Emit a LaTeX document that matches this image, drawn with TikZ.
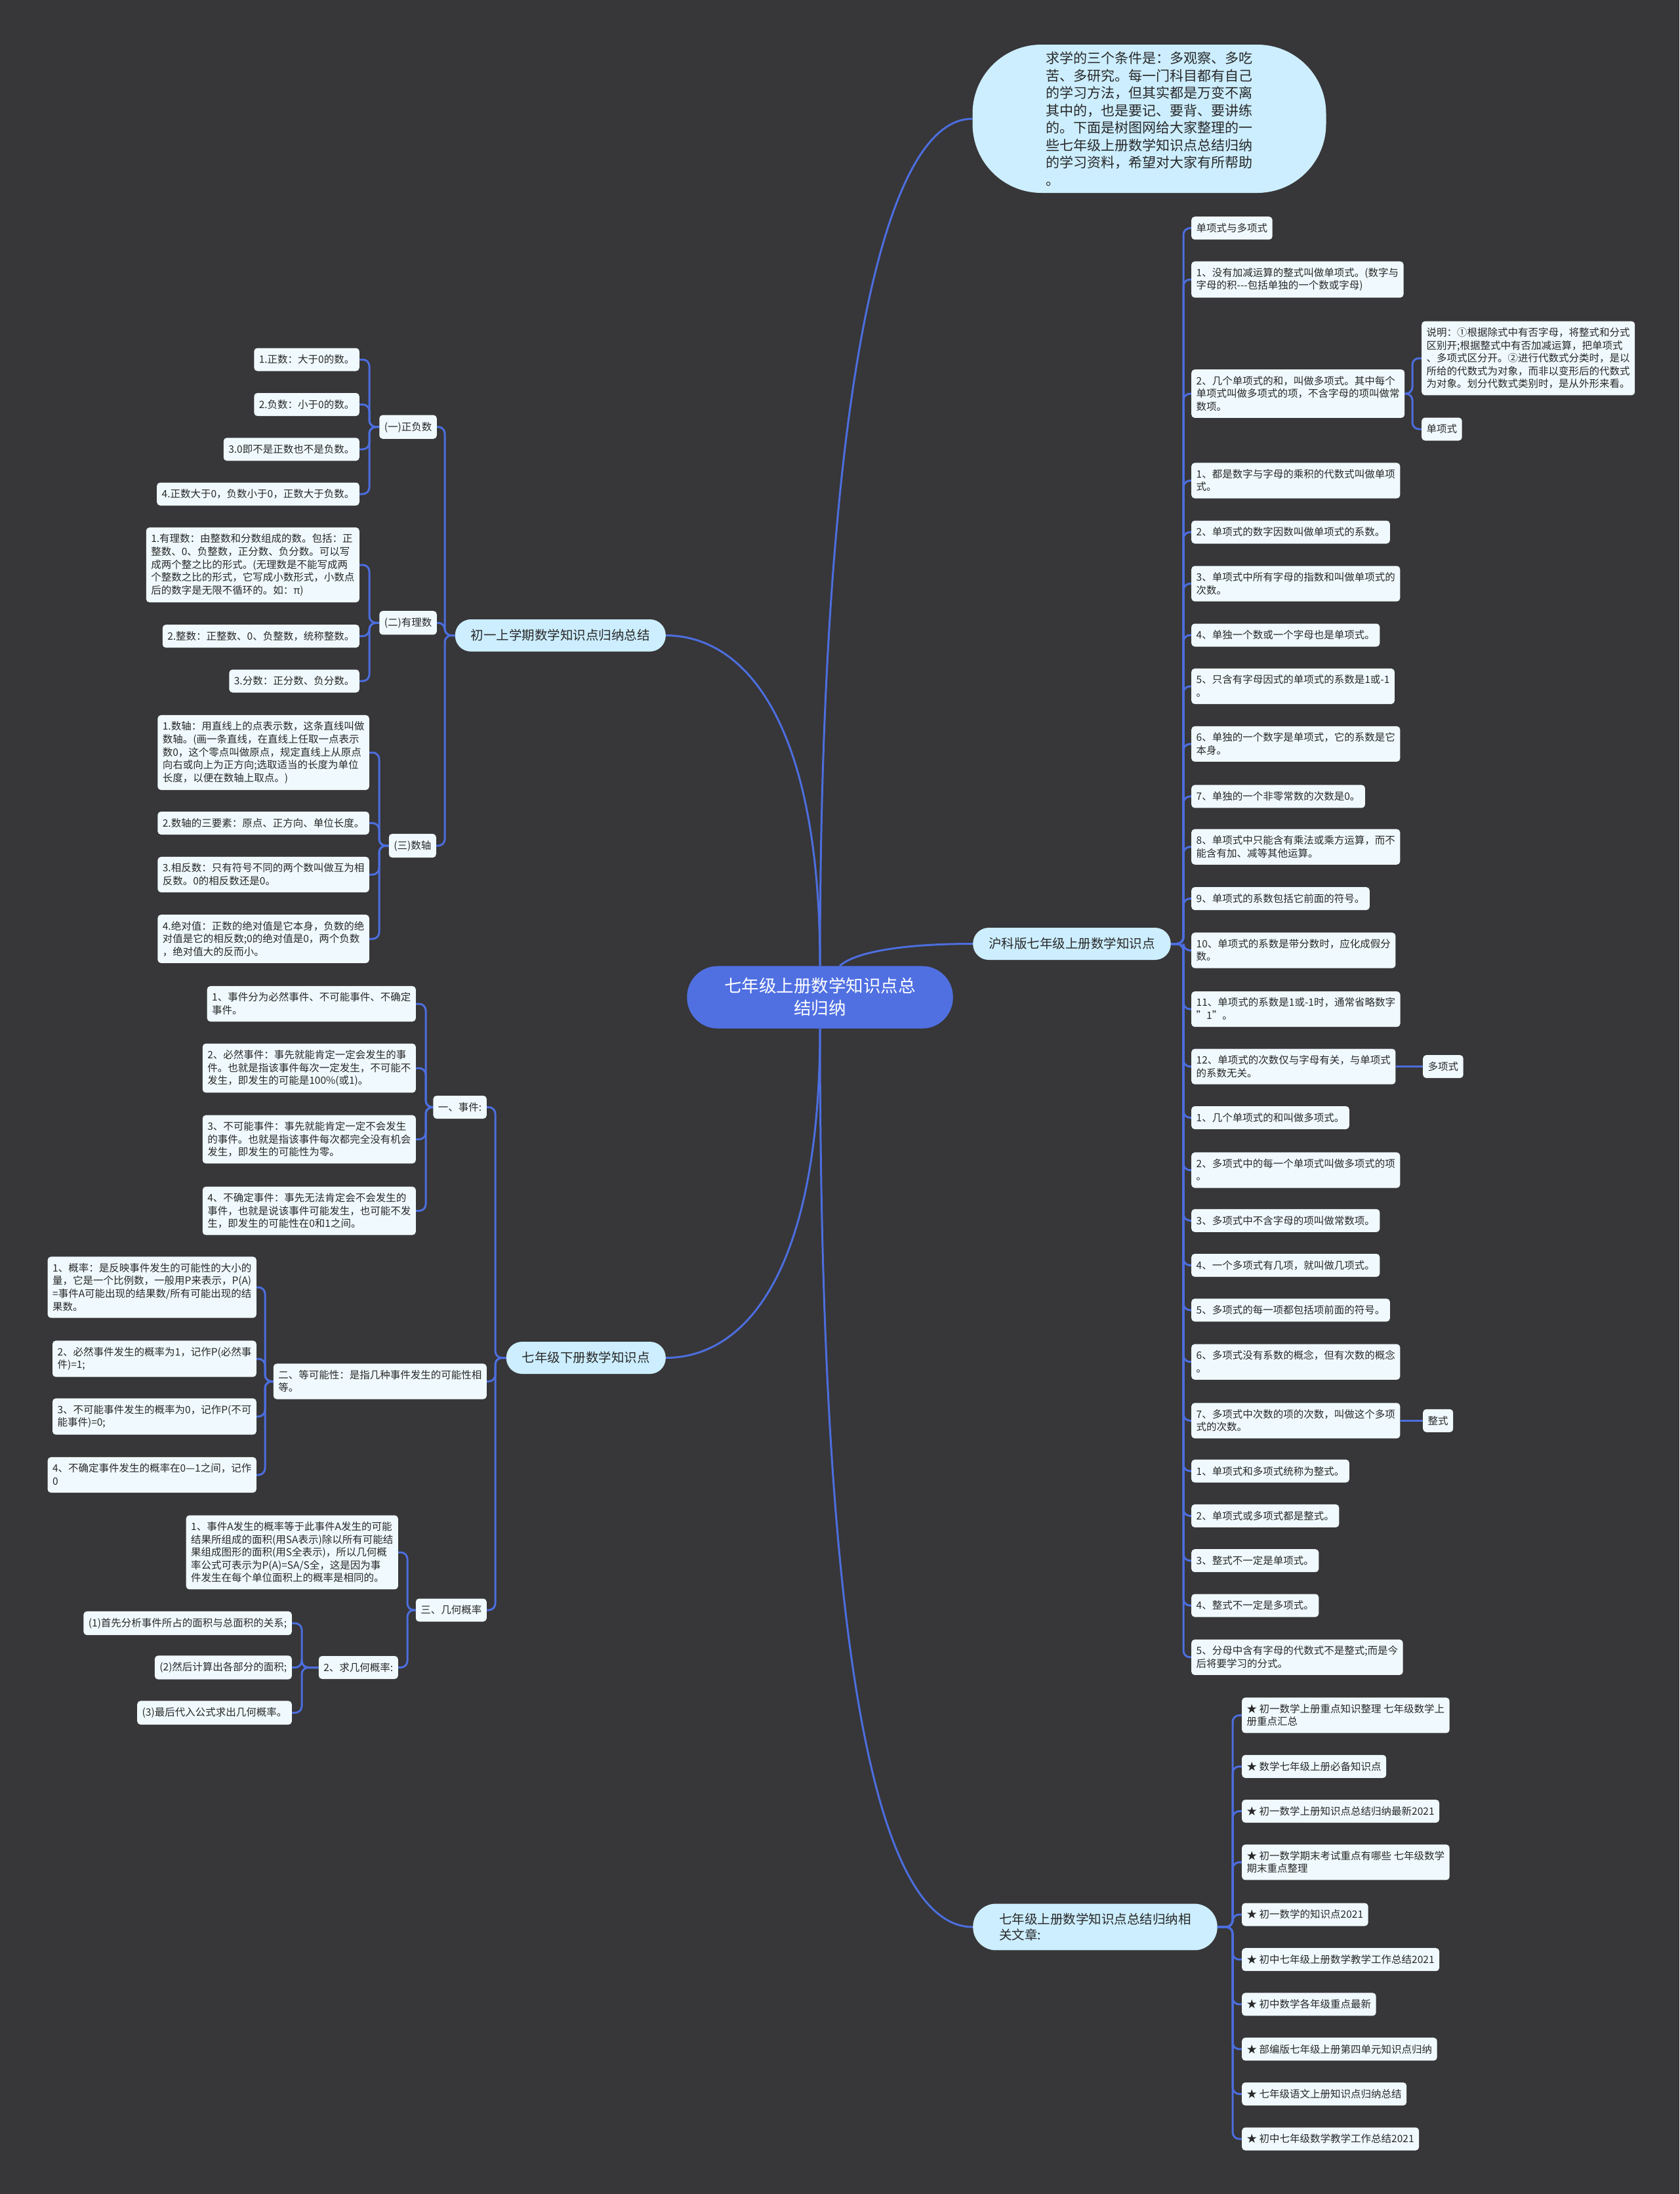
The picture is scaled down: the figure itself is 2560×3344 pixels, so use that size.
\documentclass[tikz,border=0pt]{standalone}
\usepackage{fontspec}
\setmainfont{Noto Sans CJK SC}
\usetikzlibrary{calc}
\definecolor{bgc}{RGB}{55,54,56}
\definecolor{linec}{RGB}{76,110,222}
\definecolor{rootc}{RGB}{80,112,226}
\definecolor{brc}{RGB}{204,238,255}
\definecolor{leafc}{RGB}{240,250,254}
\definecolor{txtc}{RGB}{40,40,40}
\newcommand{\lfstrut}{\rule[-0.12em]{0pt}{1em}}
\pgfdeclarelayer{bgl}
\pgfdeclarelayer{edges}
\pgfsetlayers{bgl,edges,main}
\tikzset{
  leaf/.style={fill=leafc, text=txtc, rounded corners=5pt, inner xsep=7.5pt, inner ysep=9.75pt, align=left,
    font=\fontsize{15.5}{19.6}\selectfont, execute at begin node=\lfstrut, execute at end node=\lfstrut},
  lr/.style={leaf, anchor=west},
  ll/.style={leaf, anchor=east},
  branch/.style={fill=brc, text=txtc, rounded corners=24pt, inner xsep=24pt, inner ysep=14.75pt, align=left,
    font=\fontsize{19.5}{24}\selectfont, execute at begin node=\lfstrut, execute at end node=\lfstrut},
  rootnode/.style={fill=rootc, text=white, rounded corners=47pt, inner xsep=57pt, inner ysep=17.75pt, align=center,
    font=\fontsize{26.5}{34}\selectfont, execute at begin node=\lfstrut, execute at end node=\lfstrut},
  intronode/.style={fill=brc, text=txtc, rounded corners=105pt, minimum width=539pt, minimum height=226pt,
    inner sep=0pt, align=left, font=\fontsize{21}{26.5}\selectfont},
  conn/.style={draw=linec, line width=3pt, rounded corners=10pt},
  mainconn/.style={draw=linec, line width=3pt},
}
\begin{document}
\begin{tikzpicture}[x=1pt,y=-1pt]
\begin{pgfonlayer}{bgl}
\fill[bgc] (0,0) rectangle (2560,3344);
\end{pgfonlayer}
\useasboundingbox (0,0) rectangle (2560,3344);

% root and main branches
\node[rootnode] (root) at (1250,1520) {七年级上册数学知识点总\\结归纳};
\node[intronode] (intro) at (1752,181) {求学的三个条件是：多观察、多吃\\苦、多研究。每一门科目都有自己\\的学习方法，但其实都是万变不离\\其中的，也是要记、要背、要讲练\\的。下面是树图网给大家整理的一\\些七年级上册数学知识点总结归纳\\的学习资料，希望对大家有所帮助\\。};
\node[branch, anchor=west] (hk) at (1483,1438.5) {沪科版七年级上册数学知识点};
\node[branch, anchor=west, rounded corners=35pt, inner xsep=40pt, inner ysep=14pt] (rel) at (1483,2937) {七年级上册数学知识点总结归纳相\\关文章:};
\node[branch, anchor=east] (L1) at (1015,968.5) {初一上学期数学知识点归纳总结};
\node[branch, anchor=east] (L2) at (1015,2069.5) {七年级下册数学知识点};

% spine coordinates
\coordinate (spHK) at (1804,0);
\coordinate (spR3) at (2153,0);
\coordinate (spRel) at (1879,0);
\coordinate (spL1) at (678,0);
\coordinate (spA) at (563,0);
\coordinate (spB) at (563,0);
\coordinate (spC) at (578,0);
\coordinate (spL2) at (755,0);
\coordinate (spD) at (649,0);
\coordinate (spE) at (404,0);
\coordinate (spF) at (621,0);
\coordinate (spG) at (460,0);

% right branch children
\node[lr] (r1) at (1816,347.7) {单项式与多项式};
\node[lr] (r2) at (1816,426) {1、没有加减运算的整式叫做单项式。(数字与\\字母的积-{}-{}-包括单独的一个数或字母)};
\node[lr] (r3) at (1816,600) {2、几个单项式的和，叫做多项式。其中每个\\单项式叫做多项式的项，不含字母的项叫做常\\数项。};
\node[lr] (r3a) at (2167,546) {说明：①根据除式中有否字母，将整式和分式\\区别开;根据整式中有否加减运算，把单项式\\、多项式区分开。②进行代数式分类时，是以\\所给的代数式为对象，而非以变形后的代数式\\为对象。划分代数式类别时，是从外形来看。};
\node[lr] (r3b) at (2167,654) {单项式};
\node[lr] (r4) at (1816,732.5) {1、都是数字与字母的乘积的代数式叫做单项\\式。};
\node[lr] (r5) at (1816,811) {2、单项式的数字因数叫做单项式的系数。};
\node[lr] (r6) at (1816,889.6) {3、单项式中所有字母的指数和叫做单项式的\\次数。};
\node[lr] (r7) at (1816,968) {4、单独一个数或一个字母也是单项式。};
\node[lr] (r8) at (1816,1046) {5、只含有字母因式的单项式的系数是1或-1\\。};
\node[lr] (r9) at (1816,1133.9) {6、单独的一个数字是单项式，它的系数是它\\本身。};
\node[lr] (r10) at (1816,1213.9) {7、单独的一个非零常数的次数是0。};
\node[lr] (r11) at (1816,1290.7) {8、单项式中只能含有乘法或乘方运算，而不\\能含有加、减等其他运算。};
\node[lr] (r12) at (1816,1369.6) {9、单项式的系数包括它前面的符号。};
\node[lr] (r13) at (1816,1448.5) {10、单项式的系数是带分数时，应化成假分\\数。};
\node[lr] (r14) at (1816,1538.1) {11、单项式的系数是1或-1时，通常省略数字\\"1"。};
\node[lr] (r15) at (1816,1625.6) {12、单项式的次数仅与字母有关，与单项式\\的系数无关。};
\node[lr] (p1) at (2169,1625.6) {多项式};
\node[lr] (r16) at (1816,1703.5) {1、几个单项式的和叫做多项式。};
\node[lr] (r17) at (1816,1783.5) {2、多项式中的每一个单项式叫做多项式的项\\。};
\node[lr] (r18) at (1816,1860.3) {3、多项式中不含字母的项叫做常数项。};
\node[lr] (r19) at (1816,1928.5) {4、一个多项式有几项，就叫做几项式。};
\node[lr] (r20) at (1816,1996.8) {5、多项式的每一项都包括项前面的符号。};
\node[lr] (r21) at (1816,2075.7) {6、多项式没有系数的概念，但有次数的概念\\。};
\node[lr] (r22) at (1816,2165.3) {7、多项式中次数的项的次数，叫做这个多项\\式的次数。};
\node[lr] (p2) at (2169,2165.3) {整式};
\node[lr] (r23) at (1816,2242.1) {1、单项式和多项式统称为整式。};
\node[lr] (r24) at (1816,2310.4) {2、单项式或多项式都是整式。};
\node[lr] (r25) at (1816,2378.7) {3、整式不一定是单项式。};
\node[lr] (r26) at (1816,2447) {4、整式不一定是多项式。};
\node[lr] (r27) at (1816,2525.9) {5、分母中含有字母的代数式不是整式;而是今\\后将要学习的分式。};

% related articles
\node[lr] (s1) at (1893,2614.4) {★ 初一数学上册重点知识整理 七年级数学上\\册重点汇总};
\node[lr] (s2) at (1893,2692.3) {★ 数学七年级上册必备知识点};
\node[lr] (s3) at (1893,2760.5) {★ 初一数学上册知识点总结归纳最新2021};
\node[lr] (s4) at (1893,2838.4) {★ 初一数学期末考试重点有哪些 七年级数学\\期末重点整理};
\node[lr] (s5) at (1893,2918) {★ 初一数学的知识点2021};
\node[lr] (s6) at (1893,2986.7) {★ 初中七年级上册数学教学工作总结2021};
\node[lr] (s7) at (1893,3054.9) {★ 初中数学各年级重点最新};
\node[lr] (s8) at (1893,3123.2) {★ 部编版七年级上册第四单元知识点归纳};
\node[lr] (s9) at (1893,3191.5) {★ 七年级语文上册知识点归纳总结};
\node[lr] (s10) at (1893,3260) {★ 初中七年级数学教学工作总结2021};

% left branch 1
\node[ll] (a) at (666,650.7) {(一)正负数};
\node[ll] (b) at (666,949.3) {(二)有理数};
\node[ll] (c) at (665,1289) {(三)数轴};
\node[ll] (a1) at (548,548) {1.正数：大于0的数。};
\node[ll] (a2) at (548,616.5) {2.负数：小于0的数。};
\node[ll] (a3) at (548,684.8) {3.0即不是正数也不是负数。};
\node[ll] (a4) at (548,753) {4.正数大于0，负数小于0，正数大于负数。};
\node[ll] (b1) at (548,861) {1.有理数：由整数和分数组成的数。包括：正\\整数、0、负整数，正分数、负分数。可以写\\成两个整之比的形式。(无理数是不能写成两\\个整数之比的形式，它写成小数形式，小数点\\后的数字是无限不循环的。如：π)};
\node[ll] (b2) at (548,969.6) {2.整数：正整数、0、负整数，统称整数。};
\node[ll] (b3) at (548,1038) {3.分数：正分数、负分数。};
\node[ll] (c1) at (563,1147) {1.数轴：用直线上的点表示数，这条直线叫做\\数轴。(画一条直线，在直线上任取一点表示\\数0，这个零点叫做原点，规定直线上从原点\\向右或向上为正方向;选取适当的长度为单位\\长度，以便在数轴上取点。)};
\node[ll] (c2) at (563,1254.5) {2.数轴的三要素：原点、正方向、单位长度。};
\node[ll] (c3) at (563,1333) {3.相反数：只有符号不同的两个数叫做互为相\\反数。0的相反数还是0。};
\node[ll] (c4) at (563,1431) {4.绝对值：正数的绝对值是它本身，负数的绝\\对值是它的相反数;0的绝对值是0，两个负数\\，绝对值大的反而小。};

% left branch 2
\node[ll] (d) at (742,1687.5) {一、事件:};
\node[ll] (e) at (742,2105.5) {二、等可能性：是指几种事件发生的可能性相\\等。};
\node[ll] (f) at (742,2454) {三、几何概率};
\node[ll] (d1) at (634,1530) {1、事件分为必然事件、不可能事件、不确定\\事件。};
\node[ll] (d2) at (634,1628) {2、必然事件：事先就能肯定一定会发生的事\\件。也就是指该事件每次一定发生，不可能不\\发生，即发生的可能是100\%(或1)。};
\node[ll] (d3) at (634,1736.5) {3、不可能事件：事先就能肯定一定不会发生\\的事件。也就是指该事件每次都完全没有机会\\发生，即发生的可能性为零。};
\node[ll] (d4) at (634,1845.5) {4、不确定事件：事先无法肯定会不会发生的\\事件，也就是说该事件可能发生，也可能不发\\生，即发生的可能性在0和1之间。};
\node[ll] (e1) at (391,1962) {1、概率：是反映事件发生的可能性的大小的\\量，它是一个比例数，一般用P来表示，P(A)\\=事件A可能出现的结果数/所有可能出现的结\\果数。};
\node[ll] (e2) at (391,2071) {2、必然事件发生的概率为1，记作P(必然事\\件)=1;};
\node[ll] (e3) at (391,2159) {3、不可能事件发生的概率为0，记作P(不可\\能事件)=0;};
\node[ll] (e4) at (391,2248) {4、不确定事件发生的概率在0—1之间，记作\\0};
\node[ll] (f1) at (607,2366) {1、事件A发生的概率等于此事件A发生的可能\\结果所组成的面积(用SA表示)除以所有可能结\\果组成图形的面积(用S全表示)，所以几何概\\率公式可表示为P(A)=SA/S全，这是因为事\\件发生在每个单位面积上的概率是相同的。};
\node[ll] (f2) at (607,2541.5) {2、求几何概率:};
\node[ll] (g1) at (445,2474) {(1)首先分析事件所占的面积与总面积的关系;};
\node[ll] (g2) at (445,2541.5) {(2)然后计算出各部分的面积;};
\node[ll] (g3) at (445,2610.5) {(3)最后代入公式求出几何概率。};

\begin{pgfonlayer}{edges}
% root connectors
\draw[mainconn] (root.north) .. controls (1250,700) and (1330,181) .. (intro.west);
\draw[mainconn] ($(root.north)+(30,0)$) .. controls (1305,1450) and (1380,1438.5) .. (hk.west);
\draw[mainconn] (root.north) .. controls (1250,1090) and (1130,968.5) .. (L1.east);
\draw[mainconn] (root.south) .. controls (1250,1950) and (1130,2069.5) .. (L2.east);
\draw[mainconn] (root.south) .. controls (1250,2600) and (1350,2937) .. (rel.west);
% right branch
\foreach \i in {1,...,27} \draw[conn] (hk.east) -- (hk.east -| spHK) |- (r\i.west);
\draw[conn] (r3.east) -- (r3.east -| spR3) |- (r3a.west);
\draw[conn] (r3.east) -- (r3.east -| spR3) |- (r3b.west);
\draw[conn] (r15.east) -- (p1.west);
\draw[conn] (r22.east) -- (p2.west);
\foreach \i in {1,...,10} \draw[conn] (rel.east) -- (rel.east -| spRel) |- (s\i.west);
% left branch 1
\foreach \n in {a,b,c} \draw[conn] (L1.west) -- (L1.west -| spL1) |- (\n.east);
\foreach \i in {1,...,4} \draw[conn] (a.west) -- (a.west -| spA) |- (a\i.east);
\foreach \i in {1,...,3} \draw[conn] (b.west) -- (b.west -| spB) |- (b\i.east);
\foreach \i in {1,...,4} \draw[conn] (c.west) -- (c.west -| spC) |- (c\i.east);
% left branch 2
\foreach \n in {d,e,f} \draw[conn] (L2.west) -- (L2.west -| spL2) |- (\n.east);
\foreach \i in {1,...,4} \draw[conn] (d.west) -- (d.west -| spD) |- (d\i.east);
\foreach \i in {1,...,4} \draw[conn] (e.west) -- (e.west -| spE) |- (e\i.east);
\foreach \i in {1,2} \draw[conn] (f.west) -- (f.west -| spF) |- (f\i.east);
\foreach \i in {1,...,3} \draw[conn] (f2.west) -- (f2.west -| spG) |- (g\i.east);
\end{pgfonlayer}
\end{tikzpicture}
\end{document}
